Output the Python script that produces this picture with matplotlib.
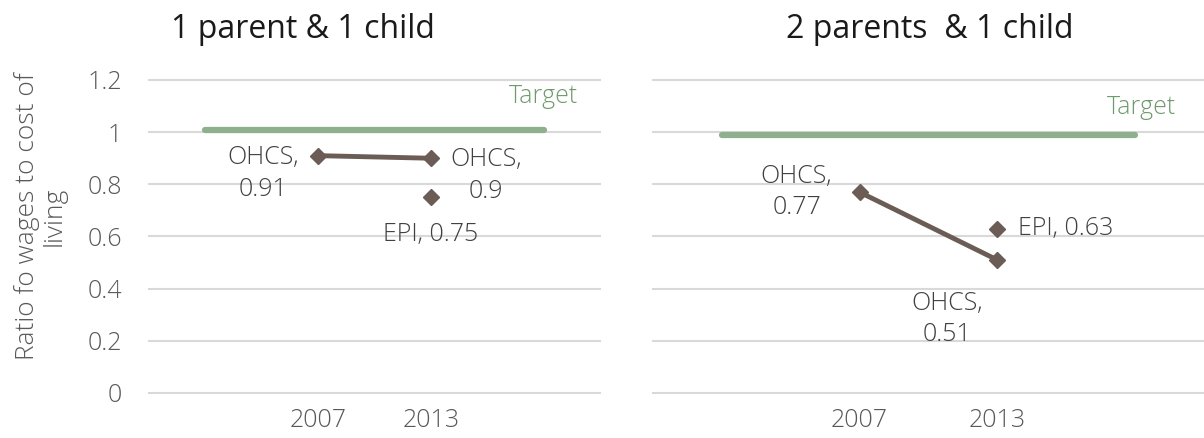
import matplotlib
matplotlib.use("Agg")
import matplotlib.pyplot as plt

# categories (first and last are blank, used only to stretch the target line)
categories = ["", "2007", "2013", ""]
ticks_y = [0, 0.2, 0.4, 0.6, 0.8, 1, 1.2]
tick_labels_y = ["0", "0.2", "0.4", "0.6", "0.8", "1", "1.2"]

# 1 parent & 1 child
one_parent_ohcs = [0.91, 0.90]
one_parent_epi = 0.75
one_parent_target = 1.01

# 2 parents & 1 child
two_parent_ohcs = [0.77, 0.51]
two_parent_epi = 0.63
two_parent_target = 0.99

FONT = "Open Sans"
LINE_COL = "#6b5d55"
TARGET_COL = "#8fb08c"
TARGET_TXT = "#6f9a6c"
GRID_COL = "#d9d9d9"
LABEL_COL = "#404040"
TICK_COL = "#595959"
FS = 18

plt.rcParams['font.family'] = [FONT, 'DejaVu Sans']

fig = plt.figure(figsize=(12.04, 4.38), dpi=100)
ax1 = fig.add_axes([149 / 1204, 45 / 438, 451 / 1204, 313 / 438])
ax2 = fig.add_axes([653 / 1204, 45 / 438, 551 / 1204, 313 / 438])


def setup(ax, show_y):
    ax.set_xlim(-0.5, 3.5)
    ax.set_ylim(0, 1.2)
    for s in ax.spines.values():
        s.set_visible(False)
    ax.set_yticks(ticks_y)
    ax.set_xticks(range(len(categories)))
    ax.set_xticklabels(categories, fontsize=FS, fontweight="light", color=TICK_COL)
    if show_y:
        ax.set_yticklabels(tick_labels_y, fontsize=FS, fontweight="light", color=TICK_COL)
    else:
        ax.set_yticklabels([])
    ax.tick_params(length=0)
    ax.tick_params(axis="x", pad=11)
    ax.tick_params(axis="y", pad=19.5)
    ax.grid(axis="y", color=GRID_COL, linewidth=1.5)
    ax.set_axisbelow(True)
    for gl in ax.get_ygridlines():
        gl.set_clip_on(False)


def draw(ax, ohcs, epi, target, lab_offsets, target_off):
    x = list(range(len(categories)))
    ax.plot([x[0], x[-1]], [target, target], color=TARGET_COL, lw=4.5,
            solid_capstyle="round", zorder=2)
    ax.plot([1, 2], ohcs, color=LINE_COL, lw=3.5, marker="D", ms=8.5, zorder=3)
    ax.plot([2], [epi], color=LINE_COL, lw=0, marker="D", ms=8.5, zorder=3)
    texts = ["OHCS,\n" + f"{ohcs[0]:g}", "OHCS,\n" + f"{ohcs[1]:g}", f"EPI, {epi:g}"]
    pts = [(1, ohcs[0]), (2, ohcs[1]), (2, epi)]
    for t, p, off in zip(texts, pts, lab_offsets):
        ax.annotate(t, p, xytext=off[:2], textcoords="offset pixels",
                    ha=off[2], va="center", multialignment="center",
                    fontsize=FS, fontweight="light", color=LABEL_COL,
                    linespacing=1.35, annotation_clip=False)
    ax.annotate("Target", (x[-1], target), xytext=target_off, textcoords="offset pixels",
                ha="center", va="center", fontsize=FS, fontweight="light",
                color=TARGET_TXT, annotation_clip=False)


setup(ax1, True)
setup(ax2, False)

draw(ax1, one_parent_ohcs, one_parent_epi, one_parent_target,
     [(-55, -18, "center"), (55, -17, "center"), (0, -37, "center")], (0, 33))
draw(ax2, two_parent_ohcs, two_parent_epi, two_parent_target,
     [(-63, 0, "center"), (-50, -59, "center"), (21, 0, "left")], (6, 27))

ax1.set_ylabel("Ratio fo wages to cost of\nliving", fontsize=19, fontweight="light",
               color=TICK_COL, linespacing=1.1)
ax1.yaxis.set_label_coords(-0.182, 0.565)

fig.text(303 / 1204, 1 - 29 / 438, "1 parent & 1 child", ha="center", va="center",
         fontsize=23, color="#1a1a1a")
fig.text(930 / 1204, 1 - 29 / 438, "2 parents  & 1 child", ha="center", va="center",
         fontsize=23, color="#1a1a1a")

fig.savefig("out.png", dpi=100)
